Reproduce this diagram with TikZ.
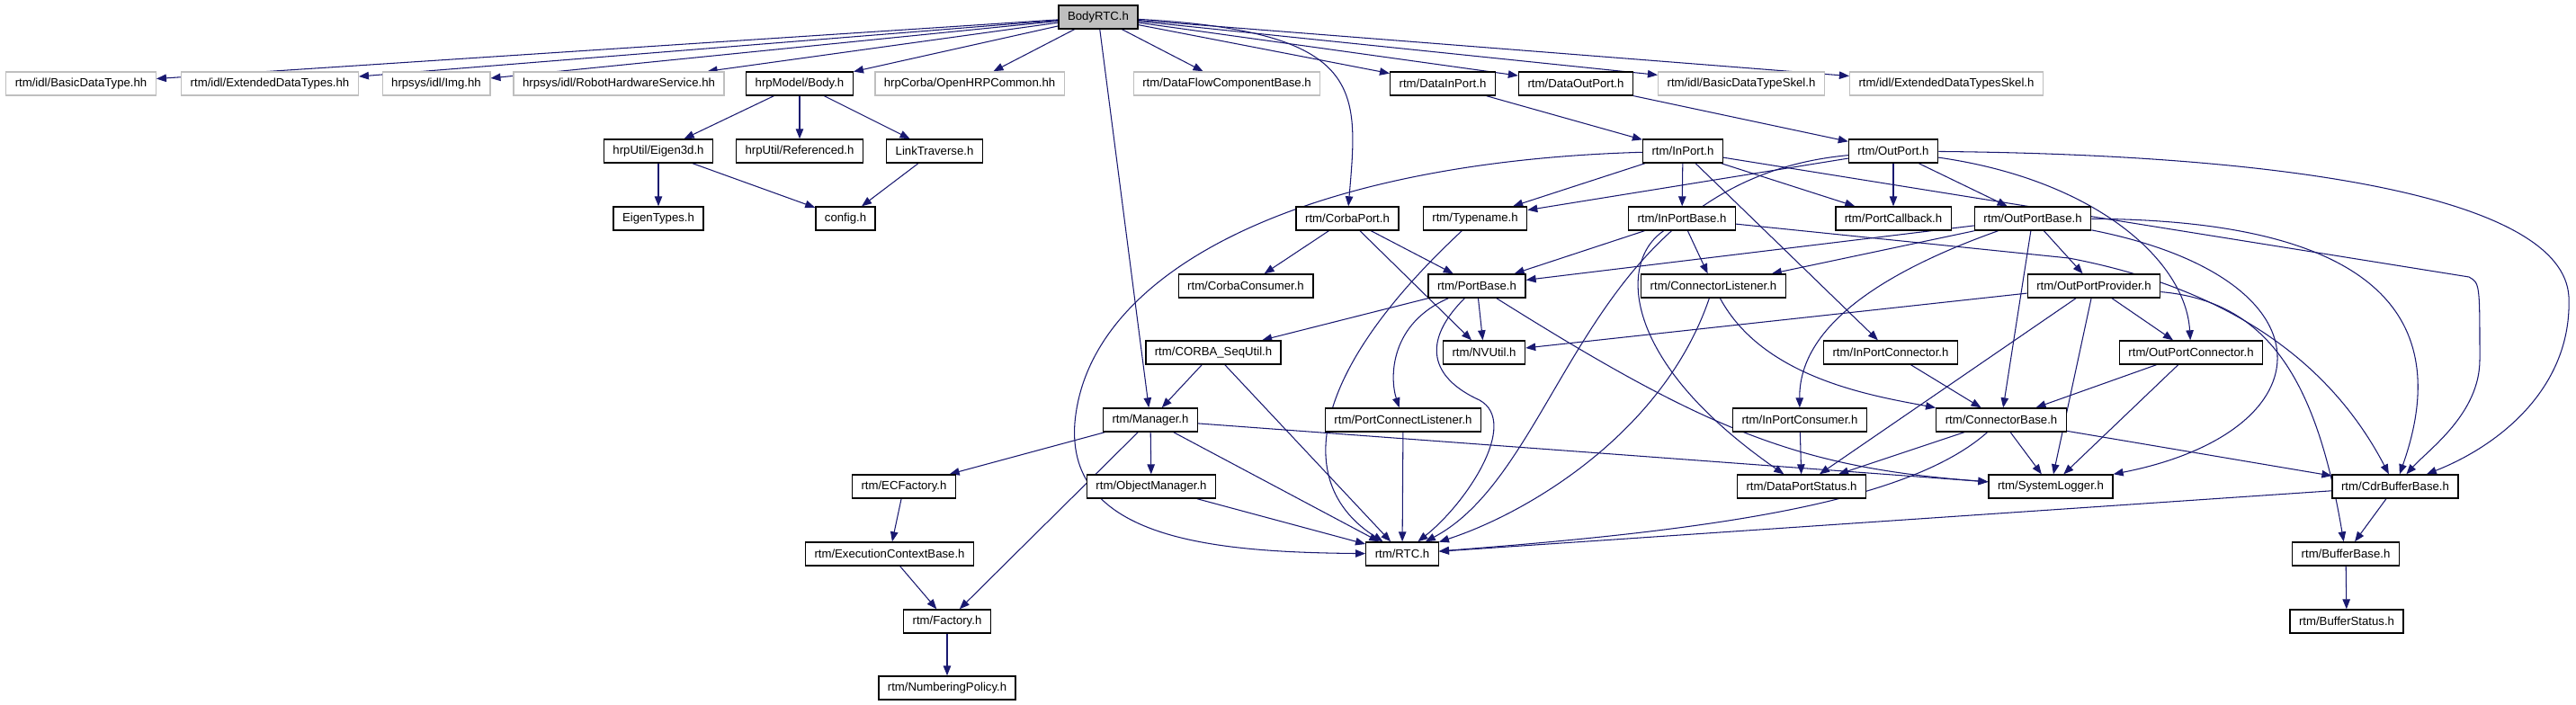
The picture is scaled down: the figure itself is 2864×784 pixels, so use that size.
\documentclass[tikz,border=0pt]{standalone}
\usepackage{fontspec}
\setmainfont{Liberation Sans}
\usetikzlibrary{arrows.meta}
\definecolor{depblue}{HTML}{191970}
\definecolor{extgray}{HTML}{BFBFBF}
\pgfdeclarelayer{edges}
\pgfsetlayers{edges,main}

\begin{document}
\begin{tikzpicture}
  [x=0.02cm,y=-0.02cm,
   every node/.style={draw,rectangle,fill=white,line width=0.8pt,
     font=\fontsize{7.5}{9}\selectfont,minimum height=0.52cm,
     inner xsep=0.2cm,inner ysep=0pt},
   ext/.style={draw=extgray},
   root/.style={fill=extgray},
   dep/.style={draw=depblue,line width=0.6pt,
     -{Triangle[length=0.22cm,width=0.17cm]}}]
  \useasboundingbox (0,0) rectangle (2864,784);

  % row 0 and 1
  \node[root] (bodyrtc) at (1221,19) {BodyRTC.h};
  \node[ext] (basicdatatype) at (90,93) {rtm/idl/BasicDataType.hh};
  \node[ext] (extendeddatatypes) at (300,93) {rtm/idl/ExtendedDataTypes.hh};
  \node[ext] (img) at (485,93) {hrpsys/idl/Img.hh};
  \node[ext] (robothardware) at (688,93) {hrpsys/idl/RobotHardwareService.hh};
  \node (body) at (889,93) {hrpModel/Body.h};
  \node[ext] (openhrpcommon) at (1078,93) {hrpCorba/OpenHRPCommon.hh};
  \node[ext] (dataflowcomp) at (1364,93) {rtm/DataFlowComponentBase.h};
  \node (datainport) at (1604,93) {rtm/DataInPort.h};
  \node (dataoutport) at (1752,93) {rtm/DataOutPort.h};
  \node[ext] (basicskel) at (1936,93) {rtm/idl/BasicDataTypeSkel.h};
  \node[ext] (extendedskel) at (2164,93) {rtm/idl/ExtendedDataTypesSkel.h};

  % row 2
  \node (eigen3d) at (732,168) {hrpUtil/Eigen3d.h};
  \node (referenced) at (889,168) {hrpUtil/Referenced.h};
  \node (linktraverse) at (1039,168) {LinkTraverse.h};
  \node (inport) at (1871,168) {rtm/InPort.h};
  \node (outport) at (2105,168) {rtm/OutPort.h};

  % row 3
  \node (eigentypes) at (732,243) {EigenTypes.h};
  \node (config) at (940,243) {config.h};
  \node (corbaport) at (1498,243) {rtm/CorbaPort.h};
  \node (typename) at (1640,243) {rtm/Typename.h};
  \node (inportbase) at (1870,243) {rtm/InPortBase.h};
  \node (portcallback) at (2105,243) {rtm/PortCallback.h};
  \node (outportbase) at (2260,243) {rtm/OutPortBase.h};

  % row 4
  \node (corbaconsumer) at (1385,318) {rtm/CorbaConsumer.h};
  \node (portbase) at (1642,318) {rtm/PortBase.h};
  \node (connlistener) at (1905,318) {rtm/ConnectorListener.h};
  \node (outportprovider) at (2328,318) {rtm/OutPortProvider.h};

  % row 5
  \node (corbasequtil) at (1349,392) {rtm/CORBA\_SeqUtil.h};
  \node (nvutil) at (1650,392) {rtm/NVUtil.h};
  \node (inportconnector) at (2102,392) {rtm/InPortConnector.h};
  \node (outportconnector) at (2436,392) {rtm/OutPortConnector.h};

  % row 6
  \node (manager) at (1279,467) {rtm/Manager.h};
  \node (portconnlistener) at (1560,467) {rtm/PortConnectListener.h};
  \node (inportconsumer) at (2001,467) {rtm/InPortConsumer.h};
  \node (connectorbase) at (2225,467) {rtm/ConnectorBase.h};

  % row 7
  \node (ecfactory) at (1005,541) {rtm/ECFactory.h};
  \node (objectmanager) at (1280,541) {rtm/ObjectManager.h};
  \node (dataportstatus) at (2003,541) {rtm/DataPortStatus.h};
  \node (systemlogger) at (2280,541) {rtm/SystemLogger.h};
  \node (cdrbufferbase) at (2663,541) {rtm/CdrBufferBase.h};

  % rows 8 to 10
  \node (execcontextbase) at (989,616) {rtm/ExecutionContextBase.h};
  \node (rtc) at (1559,616) {rtm/RTC.h};
  \node (bufferbase) at (2608,616) {rtm/BufferBase.h};
  \node (factory) at (1053,691) {rtm/Factory.h};
  \node (bufferstatus) at (2609,691) {rtm/BufferStatus.h};
  \node (numberingpolicy) at (1053,765) {rtm/NumberingPolicy.h};

  \begin{pgfonlayer}{edges}
  % straight includes
  \foreach \from/\to in {bodyrtc/basicdatatype,bodyrtc/extendeddatatypes,bodyrtc/img,
      bodyrtc/robothardware,bodyrtc/body,bodyrtc/openhrpcommon,bodyrtc/dataflowcomp,
      bodyrtc/datainport,bodyrtc/dataoutport,bodyrtc/basicskel,bodyrtc/extendedskel,
      bodyrtc/manager,body/eigen3d,body/referenced,body/linktraverse,
      eigen3d/eigentypes,eigen3d/config,linktraverse/config,
      datainport/inport,dataoutport/outport,
      inport/typename,inport/inportbase,inport/portcallback,inport/inportconnector,
      outport/typename,outport/portcallback,outport/outportbase,
      corbaport/corbaconsumer,corbaport/portbase,corbaport/nvutil,
      inportbase/portbase,inportbase/connlistener,
      outportbase/portbase,outportbase/connlistener,outportbase/connectorbase,
      outportbase/outportprovider,portbase/corbasequtil,portbase/nvutil,
      outportprovider/nvutil,outportprovider/dataportstatus,
      outportprovider/systemlogger,outportprovider/outportconnector,
      corbasequtil/manager,corbasequtil/rtc,inportconnector/connectorbase,
      outportconnector/connectorbase,outportconnector/systemlogger,
      manager/ecfactory,manager/objectmanager,manager/rtc,manager/systemlogger,
      manager/factory,portconnlistener/rtc,inportconsumer/dataportstatus,
      connectorbase/dataportstatus,connectorbase/systemlogger,
      connectorbase/cdrbufferbase,ecfactory/execcontextbase,objectmanager/rtc,
      cdrbufferbase/rtc,cdrbufferbase/bufferbase,execcontextbase/factory,
      bufferbase/bufferstatus,factory/numberingpolicy}
    \draw[dep] (\from) -- (\to);

  % curved includes
  \draw[dep] (bodyrtc) .. controls (1520,35) and (1510,100) .. (corbaport);
  \draw[dep] (inport) .. controls (1450,180) and (1210,300) .. (1195,470)
    .. controls (1185,600) and (1350,614) .. (rtc);
  \draw[dep] (outport) .. controls (1760,200) and (1740,520) .. (rtc);
  \draw[dep] (outport) .. controls (2550,172) and (2850,220) .. (2856,330)
    .. controls (2860,430) and (2780,495) .. (cdrbufferbase);
  \draw[dep] (inport) -- (2745,308) .. controls (2757,315) .. (2757,400)
    .. controls (2757,460) and (2700,500) .. (cdrbufferbase);
  \draw[dep] (inportbase) -- (2300,287) .. controls (2500,325) and (2600,420)
    .. (cdrbufferbase);
  \draw[dep] (outportbase) .. controls (2680,245) and (2720,380) .. (cdrbufferbase);
  \draw[dep] (outport) .. controls (2330,200) and (2430,290) .. (outportconnector);
  \draw[dep] (outportbase) .. controls (2600,310) and (2590,480) .. (systemlogger);
  \draw[dep] (outportbase) .. controls (2100,300) and (2000,360) .. (inportconsumer);
  \draw[dep] (outportprovider) .. controls (2520,335) and (2575,420) .. (bufferbase);
  \draw[dep] (portbase) .. controls (1545,360) and (1545,420) .. (portconnlistener);
  \draw[dep] (portbase) .. controls (1580,380) and (1590,420) .. (1645,445)
    .. controls (1690,470) and (1630,560) .. (rtc);
  \draw[dep] (portbase) .. controls (1900,480) and (2000,520) .. (systemlogger);
  \draw[dep] (inportbase) .. controls (1800,290) and (1800,400) .. (dataportstatus);
  \draw[dep] (connlistener) .. controls (1850,480) and (1700,570) .. (rtc);
  \draw[dep] (connlistener) .. controls (1960,420) and (2080,440) .. (connectorbase);
  \draw[dep] (typename) .. controls (1450,420) and (1440,540) .. (rtc);
  \draw[dep] (connectorbase) .. controls (2120,560) and (1900,590) .. (rtc);
  \end{pgfonlayer}

\end{tikzpicture}
\end{document}
